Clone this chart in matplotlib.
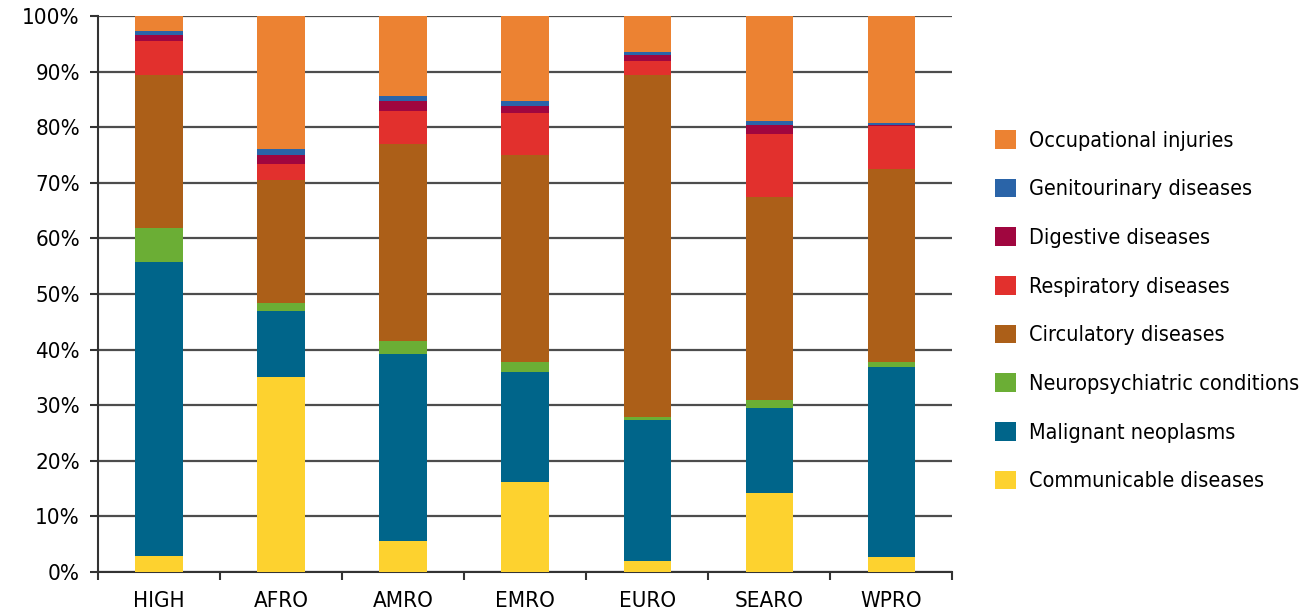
import numpy as np
import matplotlib
matplotlib.use("Agg")
import matplotlib.pyplot as plt
from matplotlib.patches import Patch

plt.rcParams['font.family'] = ['DejaVu Sans']
plt.rcParams['font.stretch'] = 'condensed'

# regions on the x axis
regions = ["HIGH", "AFRO", "AMRO", "EMRO", "EURO", "SEARO", "WPRO"]

# share of each cause (%), stacked from the bottom up
communicable = [2.9, 35.1, 5.6, 16.2, 2.0, 14.2, 2.7]
malignant = [52.9, 11.8, 33.6, 19.8, 25.3, 15.3, 34.2]
neuropsychiatric = [6.1, 1.5, 2.3, 1.8, 0.6, 1.5, 0.9]
circulatory = [27.5, 22.1, 35.5, 37.2, 61.5, 36.4, 34.7]
respiratory = [6.1, 2.9, 5.9, 7.6, 2.5, 11.4, 7.7]
digestive = [1.1, 1.6, 1.8, 1.2, 1.0, 1.6, 0.2]
genitourinary = [0.7, 1.1, 0.9, 0.9, 0.6, 0.7, 0.4]
occupational = [2.7, 23.9, 14.4, 15.3, 6.5, 18.9, 19.8]

series = [
    ("Communicable diseases", communicable, "#fdd22f"),
    ("Malignant neoplasms", malignant, "#00658a"),
    ("Neuropsychiatric conditions", neuropsychiatric, "#6bae35"),
    ("Circulatory diseases", circulatory, "#ac5f18"),
    ("Respiratory diseases", respiratory, "#e2302d"),
    ("Digestive diseases", digestive, "#a0063f"),
    ("Genitourinary diseases", genitourinary, "#2a64a8"),
    ("Occupational injuries", occupational, "#ec8232"),
]

fig = plt.figure(figsize=(13.03, 6.13), dpi=100)
ax = fig.add_axes([0.0752, 0.0669, 0.6558, 0.9071])

x = np.arange(len(regions))
bottom = np.zeros(len(regions))
handles = []
for name, vals, col in series:
    vals = np.array(vals)
    ax.bar(x, vals, width=0.39, bottom=bottom, color=col, zorder=3)
    bottom += vals
    handles.append(Patch(facecolor=col, label=name))

ax.set_xlim(-0.5, len(regions) - 0.5)
ax.set_ylim(0, 100)
ax.set_yticks(np.arange(0, 101, 10))
ax.set_yticklabels([f"{v}%" for v in range(0, 101, 10)], fontsize=16)
ax.yaxis.grid(True, color="#4d4d4d", linewidth=1.6, zorder=0)
ax.set_axisbelow(True)

ax.set_xticks(x)
ax.set_xticklabels(regions, fontsize=16)
ax.set_xticks(np.arange(-0.5, len(regions), 1), minor=True)
ax.tick_params(axis='x', which='major', length=0, pad=14)
ax.tick_params(axis='x', which='minor', length=6, width=1.5, color="#333333")
ax.tick_params(axis='y', length=6, width=1.5, color="#333333", pad=7)

for s in ["top", "right"]:
    ax.spines[s].set_visible(False)
for s in ["left", "bottom"]:
    ax.spines[s].set_linewidth(1.5)
    ax.spines[s].set_color("#333333")

fig.legend(handles=handles[::-1], loc="center left", bbox_to_anchor=(0.764, 0.493),
           frameon=False, fontsize=15.5, handlelength=0.95, handleheight=0.95,
           handletextpad=0.6, labelspacing=1.3, borderpad=0, borderaxespad=0)

fig.savefig("out.png", dpi=100)
